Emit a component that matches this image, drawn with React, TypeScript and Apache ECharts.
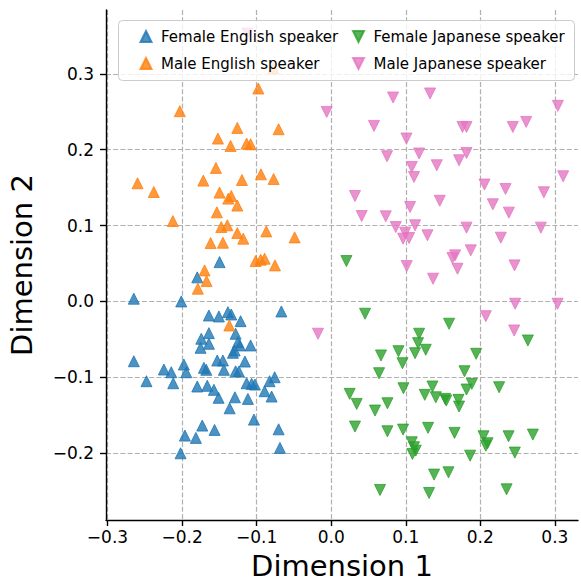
import { useEffect, useRef } from "react";
import * as echarts from "echarts";

// 2-D embedding coordinates [dimension 1, dimension 2] per speaker group
const femaleEnglish: [number, number][] = [
  [-0.1497, 0.0518], [-0.1796, 0.0317], [-0.2647, 0.0036], [-0.2011, 0.0],
  [-0.164, -0.0185], [-0.1506, -0.0198], [-0.1385, -0.0141], [-0.134, -0.0172],
  [-0.1215, -0.026], [-0.0668, -0.0132], [-0.1282, -0.0426], [-0.164, -0.0418],
  [-0.1742, -0.0492], [-0.164, -0.0558], [-0.1752, -0.0611], [-0.1251, -0.0537],
  [-0.1224, -0.058], [-0.1295, -0.0646], [-0.1318, -0.0677], [-0.1081, -0.058],
  [-0.2647, -0.0788], [-0.2244, -0.0897], [-0.2145, -0.0933], [-0.1976, -0.0831],
  [-0.1944, -0.0933], [-0.1707, -0.0875], [-0.1675, -0.0901], [-0.1528, -0.0778],
  [-0.1452, -0.0778], [-0.1439, -0.0901], [-0.1157, -0.0792], [-0.1282, -0.092],
  [-0.1238, -0.0923], [-0.2477, -0.1051], [-0.2118, -0.1078], [-0.1796, -0.1121],
  [-0.1662, -0.1112], [-0.1573, -0.1165], [-0.151, -0.127], [-0.1291, -0.1263],
  [-0.1117, -0.1284], [-0.1362, -0.1408], [-0.1134, -0.1078], [-0.1067, -0.1086],
  [-0.1023, -0.1095], [-0.0893, -0.1183], [-0.0826, -0.1051], [-0.0758, -0.0999],
  [-0.0799, -0.1253], [-0.1036, -0.1557], [-0.1729, -0.1636], [-0.1564, -0.1693],
  [-0.1962, -0.1768], [-0.1815, -0.1798], [-0.0705, -0.1685], [-0.202, -0.2001],
  [-0.0687, -0.193],
];

const maleEnglish: [number, number][] = [
  [-0.0977, 0.2806], [-0.203, 0.2507], [-0.1259, 0.2286], [-0.0705, 0.2269],
  [-0.1519, 0.2146], [-0.1134, 0.208], [-0.1081, 0.2071], [-0.1349, 0.2049],
  [-0.1546, 0.1759], [-0.1715, 0.1592], [-0.1197, 0.16], [-0.0942, 0.1675],
  [-0.0772, 0.1613], [-0.2597, 0.1557], [-0.2379, 0.1442], [-0.1497, 0.1434],
  [-0.134, 0.1389], [-0.138, 0.1355], [-0.1259, 0.1263], [-0.1533, 0.1174],
  [-0.2123, 0.1059], [-0.1474, 0.098], [-0.1393, 0.1003], [-0.1259, 0.0901],
  [-0.1179, 0.0827], [-0.087, 0.0923], [-0.049, 0.0844], [-0.1617, 0.0769],
  [-0.1452, 0.0774], [-0.1013, 0.0532], [-0.0946, 0.055], [-0.0893, 0.0563],
  [-0.0754, 0.0475], [-0.1698, 0.0409], [-0.1671, 0.0268], [-0.1788, 0.0168],
  [-0.1366, -0.0317], [-0.0776, 0.307],
];

const femaleJapanese: [number, number][] = [
  [0.0204, 0.0532], [0.0454, -0.0162], [0.1581, -0.0294], [0.2638, -0.0515],
  [0.1179, -0.0426], [0.1165, -0.055], [0.1125, -0.0682], [0.1268, -0.0637],
  [0.0902, -0.0656], [0.0956, -0.0814], [0.0668, -0.0712], [0.0642, -0.0946],
  [0.0969, -0.1144], [0.1358, -0.1121], [0.1255, -0.1231], [0.1403, -0.1263],
  [0.0248, -0.1218], [0.0342, -0.135], [0.0754, -0.1342], [0.0588, -0.1438],
  [0.0319, -0.1649], [0.0754, -0.1711], [0.0964, -0.1689], [0.1299, -0.1666],
  [0.1081, -0.1856], [0.1111, -0.1922], [0.1134, -0.1966], [0.109, -0.2009],
  [0.138, -0.2282], [0.0655, -0.2484], [0.1313, -0.2524], [0.1944, -0.069],
  [0.1788, -0.092], [0.1886, -0.1086], [0.1815, -0.1161], [0.2252, -0.1131],
  [0.1528, -0.1284], [0.1544, -0.1306], [0.1707, -0.1297], [0.1715, -0.1385],
  [0.1654, -0.1732], [0.2043, -0.1777], [0.2097, -0.1869], [0.2074, -0.19],
  [0.2379, -0.1777], [0.2705, -0.1755], [0.1863, -0.2032], [0.2463, -0.1992],
  [0.1573, -0.2252], [0.2352, -0.2476],
];

const maleJapanese: [number, number][] = [
  [0.083, 0.2687], [0.1326, 0.274], [-0.006, 0.2497], [0.0574, 0.2313],
  [0.1009, 0.2146], [0.0749, 0.1913], [0.1179, 0.1949], [0.1081, 0.1772],
  [0.1111, 0.164], [0.1416, 0.1794], [0.0319, 0.1389], [0.1058, 0.1244],
  [0.0409, 0.1125], [0.0732, 0.1121], [0.1456, 0.1326], [0.304, 0.2577],
  [0.1761, 0.2299], [0.1815, 0.2299], [0.2436, 0.2299], [0.2615, 0.2365],
  [0.1815, 0.1956], [0.1715, 0.186], [0.2056, 0.154], [0.2338, 0.1482],
  [0.2852, 0.1438], [0.3111, 0.1649], [0.2168, 0.128], [0.2383, 0.117],
  [0.0866, 0.098], [0.1125, 0.1003], [0.0991, 0.0906], [0.1044, 0.0835],
  [0.0964, 0.0827], [0.1291, 0.0871], [0.1815, 0.0972], [0.2275, 0.084],
  [0.2812, 0.0972], [0.1872, 0.0673], [0.1662, 0.0607], [0.1627, 0.0571],
  [0.1694, 0.0431], [0.1013, 0.0466], [0.1366, 0.0299], [0.2459, 0.0475],
  [0.2467, -0.003], [0.3036, -0.003], [0.2074, -0.0194], [0.2454, -0.0383],
  [-0.0177, -0.0426], [-0.1125, 0.353],
];

const groupNames = [
  "Female English speaker",
  "Male English speaker",
  "Female Japanese speaker",
  "Male Japanese speaker",
];
const groupData = [femaleEnglish, maleEnglish, femaleJapanese, maleJapanese];
const groupColors = ["#1f77b4", "#ff7f0e", "#2ca02c", "#e377c2"];
const groupRotate = [0, 0, 180, 180];

const xTicks = [-0.3, -0.2, -0.1, 0.0, 0.1, 0.2, 0.3];
const yTicks = [-0.2, -0.1, 0.0, 0.1, 0.2, 0.3];
const xRange = [-0.302, 0.331];
const yRange = [-0.288, 0.384];

const FONT = "DejaVu Sans";
const UP_ICON = "path://M5,0L10,10L0,10Z";
const DOWN_ICON = "path://M0,0L10,0L5,10Z";

const fmt = (v: number) =>
  (v < -1e-9 ? "\u2212" : "") + Math.abs(v).toFixed(1);

const gridLine = {
  show: true,
  lineStyle: { color: "#b0b0b0", width: 1.2, type: [5, 2.2] },
};

const axisCommon = (ticks: number[], margin: number) => ({
  type: "value",
  nameLocation: "middle",
  nameMoveOverlap: false,
  nameTextStyle: { fontFamily: FONT, fontSize: 29, lineHeight: 24, color: "#000" },
  axisLine: { show: true, onZero: false, lineStyle: { color: "#000", width: 1.4 } },
  axisTick: {
    show: true,
    inside: false,
    length: 6,
    customValues: ticks,
    lineStyle: { color: "#000", width: 1.4 },
  },
  axisLabel: {
    customValues: ticks,
    margin,
    fontFamily: FONT,
    fontSize: 17,
    color: "#000",
    formatter: fmt,
  },
  splitLine: gridLine,
});

export default function App() {
  const ref = useRef<HTMLDivElement>(null);

  useEffect(() => {
    if (!ref.current) return;
    const chart = echarts.init(ref.current, undefined, { renderer: "svg" });

    const legendBase = {
      orient: "vertical",
      top: 29,
      itemWidth: 12,
      itemHeight: 11,
      itemGap: 12,
      padding: 0,
      selectedMode: false,
      z: 6,
      textStyle: {
        fontFamily: FONT,
        fontSize: 15,
        color: "#000",
        padding: [0, 0, 0, 4],
      },
    };
    const legendItem = (i: number) => ({
      name: groupNames[i],
      icon: groupRotate[i] ? DOWN_ICON : UP_ICON,
    });

    chart.setOption({
      animation: false,
      backgroundColor: "#fff",
      grid: {
        left: 106,
        right: 3,
        top: 10,
        bottom: 61,
        containLabel: false,
        outerBoundsMode: "none",
      },
      xAxis: {
        ...axisCommon(xTicks, 8),
        min: xRange[0],
        max: xRange[1],
        name: "Dimension 1",
        nameGap: 34,
      },
      yAxis: {
        ...axisCommon(yTicks, 12),
        min: yRange[0],
        max: yRange[1],
        name: "Dimension 2",
        nameGap: 72,
      },
      legend: [
        { ...legendBase, left: 139.5, data: [legendItem(0), legendItem(1)] },
        { ...legendBase, left: 352, data: [legendItem(2), legendItem(3)] },
      ],
      graphic: [
        {
          type: "rect",
          z: 5,
          shape: { x: 118.5, y: 20.5, width: 456, height: 60, r: 4 },
          style: { fill: "rgba(255,255,255,0.8)", stroke: "#cccccc", lineWidth: 1 },
          silent: true,
        },
      ],
      series: groupNames.map((name, i) => ({
        name,
        type: "scatter",
        data: groupData[i],
        symbol: "triangle",
        symbolSize: 11,
        symbolRotate: groupRotate[i],
        itemStyle: {
          color: groupColors[i],
          borderColor: groupColors[i],
          borderWidth: 1,
          opacity: 0.8,
        },
        emphasis: { disabled: true },
        z: 2,
      })),
    });

    return () => chart.dispose();
  }, []);

  return (
    <div
      ref={ref}
      style={{ position: "fixed", left: 0, top: 0, width: 581, height: 581 }}
    />
  );
}
